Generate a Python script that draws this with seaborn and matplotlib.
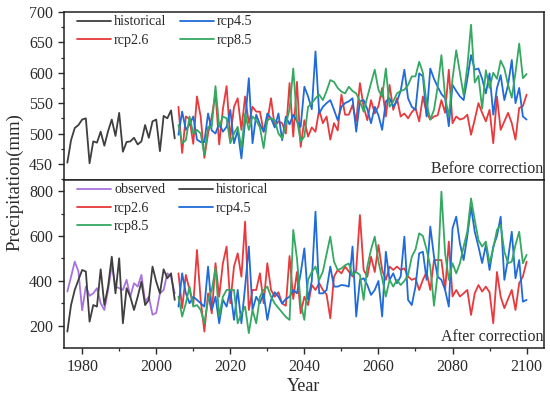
import numpy as np
import pandas as pd
import matplotlib
matplotlib.use("Agg")
import matplotlib.pyplot as plt
import seaborn as sns
from matplotlib.ticker import MultipleLocator

hist_years = list(range(1976, 2006))
fut_years = list(range(2006, 2101))

# ---- Before correction ----
hist_top = [452, 489, 509, 514, 523, 525, 451, 487, 485, 503, 480, 504, 523, 496, 534,
            470, 486, 487, 493, 482, 487, 514, 493, 520, 523, 471, 529, 525, 538, 492]

rcp26_top = [544, 468, 528, 524, 483, 561, 528, 460, 500, 528,
             566, 482, 540, 578, 492, 544, 558, 506, 561, 517,
             544, 536, 536, 503, 520, 558, 511, 520, 517, 500,
             583, 495, 585, 478, 522, 495, 510, 503, 539, 517,
             528, 490, 517, 505, 564, 531, 531, 547, 520, 583,
             544, 522, 555, 533, 545, 575, 528, 580, 539, 558,
             528, 533, 525, 535, 542, 520, 561, 534, 523, 528,
             530, 555, 534, 605, 517, 528, 523, 525, 531, 498,
             523, 550, 534, 520, 539, 484, 561, 506, 520, 534,
             517, 490, 542, 545, 564]

rcp45_top = [498, 536, 506, 515, 528, 490, 486, 486, 533, 505,
             500, 517, 503, 511, 539, 484, 505, 459, 520, 591,
             484, 531, 515, 503, 533, 525, 510, 533, 489, 528,
             515, 531, 520, 511, 577, 561, 540, 635, 533, 544,
             550, 555, 539, 522, 544, 550, 553, 558, 503, 553,
             555, 540, 517, 544, 530, 506, 553, 558, 544, 553,
             570, 605, 558, 544, 539, 599, 594, 528, 607, 590,
             577, 565, 558, 512, 580, 570, 561, 555, 590, 629,
             605, 607, 590, 566, 599, 531, 575, 596, 555, 580,
             621, 550, 575, 528, 523]

rcp85_top = [514, 484, 489, 528, 500, 506, 500, 465, 511, 511,
             578, 511, 528, 525, 484, 500, 511, 476, 533, 506,
             528, 522, 510, 476, 522, 525, 522, 500, 492, 515,
             540, 607, 522, 487, 495, 544, 550, 558, 564, 555,
             570, 588, 585, 575, 569, 566, 577, 570, 566, 553,
             536, 560, 583, 605, 572, 560, 607, 544, 553, 566,
             570, 572, 580, 594, 594, 618, 600, 550, 523, 539,
             577, 629, 560, 528, 590, 637, 600, 563, 610, 679,
             584, 595, 541, 604, 575, 600, 590, 620, 607, 580,
             559, 600, 648, 591, 598]

# ---- After correction ----
observed = [353, 419, 486, 442, 270, 375, 334, 345, 368, 301, 271, 360, 471, 375, 368,
            360, 405, 330, 390, 375, 427, 308, 330, 250, 258, 345, 360, 434, 419, 345]

hist_bot = [175, 293, 360, 405, 449, 442, 219, 293, 286, 452, 293, 375, 508, 345, 501,
            212, 368, 330, 271, 330, 397, 293, 316, 464, 397, 345, 452, 412, 434, 316]

rcp26_bot = [434, 279, 427, 360, 293, 538, 316, 175, 345, 256,
             479, 330, 479, 553, 301, 464, 523, 419, 664, 271,
             360, 360, 434, 301, 479, 360, 330, 350, 300, 290,
             511, 320, 440, 256, 330, 293, 382, 360, 390, 360,
             340, 234, 419, 449, 434, 464, 442, 420, 450, 693,
             449, 419, 508, 440, 560, 449, 405, 464, 449, 464,
             449, 456, 420, 405, 412, 360, 405, 440, 360, 493,
             493, 493, 360, 575, 331, 360, 331, 345, 360, 249,
             345, 382, 353, 375, 350, 212, 440, 330, 279, 320,
             360, 271, 390, 420, 486]

rcp45_bot = [286, 434, 345, 301, 330, 316, 301, 286, 464, 271,
             330, 212, 316, 286, 360, 227, 360, 212, 375, 553,
             271, 330, 301, 345, 227, 316, 350, 330, 300, 320,
             330, 360, 345, 434, 545, 316, 400, 708, 345, 345,
             360, 464, 375, 375, 382, 380, 375, 553, 242, 405,
             412, 382, 338, 360, 400, 242, 530, 405, 434, 390,
             420, 597, 316, 293, 375, 523, 530, 405, 642, 508,
             419, 405, 360, 286, 634, 686, 567, 493, 600, 730,
             619, 553, 480, 560, 449, 553, 600, 686, 405, 500,
             619, 412, 493, 308, 316]

rcp85_bot = [330, 242, 301, 375, 286, 293, 271, 212, 316, 360,
             456, 242, 330, 360, 360, 360, 212, 256, 286, 168,
             271, 212, 330, 360, 375, 330, 300, 280, 260, 240,
             227, 627, 500, 300, 227, 405, 440, 464, 405, 442,
             520, 597, 486, 449, 456, 470, 478, 427, 440, 427,
             316, 464, 540, 597, 486, 412, 331, 405, 375, 405,
             382, 400, 427, 508, 540, 612, 600, 540, 464, 290,
             434, 797, 523, 405, 479, 434, 479, 553, 620, 767,
             671, 582, 553, 575, 479, 545, 627, 649, 530, 479,
             486, 560, 619, 479, 516]

colors = {
    "observed": "#a772de",
    "historical": "#3f3f3f",
    "rcp2.6": "#e8393c",
    "rcp4.5": "#1f6bd8",
    "rcp8.5": "#35a862",
}

sns.set_theme(style="ticks")
plt.rcParams["font.family"] = ["Liberation Serif", "DejaVu Serif"]
plt.rcParams["text.color"] = "#2a2a2a"
plt.rcParams["axes.labelcolor"] = "#2a2a2a"
plt.rcParams["xtick.color"] = "#2a2a2a"
plt.rcParams["ytick.color"] = "#2a2a2a"

fig = plt.figure(figsize=(5.5, 3.94), dpi=100)
L, R = 64 / 550, 544 / 550
ax1 = fig.add_axes([L, 1 - 180 / 394, R - L, 168 / 394])
ax2 = fig.add_axes([L, 1 - 348 / 394, R - L, 168 / 394], sharex=ax1)

lw = 1.3

def draw(ax, x, y, name):
    sns.lineplot(x=x, y=y, ax=ax, color=colors[name], linewidth=lw, label=name)

# top panel
draw(ax1, hist_years, hist_top, "historical")
draw(ax1, fut_years, rcp26_top, "rcp2.6")
draw(ax1, fut_years, rcp45_top, "rcp4.5")
draw(ax1, fut_years, rcp85_top, "rcp8.5")

# bottom panel
draw(ax2, hist_years, observed, "observed")
draw(ax2, hist_years, hist_bot, "historical")
draw(ax2, fut_years, rcp26_bot, "rcp2.6")
draw(ax2, fut_years, rcp45_bot, "rcp4.5")
draw(ax2, fut_years, rcp85_bot, "rcp8.5")

ax1.set_xlim(1975.1, 2104.7)
ax1.set_ylim(423.5, 700)
ax2.set_ylim(102, 849)

ax1.yaxis.set_major_locator(MultipleLocator(50))
ax1.yaxis.set_minor_locator(MultipleLocator(25))
ax2.yaxis.set_major_locator(MultipleLocator(200))
ax2.yaxis.set_minor_locator(MultipleLocator(100))
ax2.xaxis.set_major_locator(MultipleLocator(20))
ax2.xaxis.set_minor_locator(MultipleLocator(10))

for ax in (ax1, ax2):
    for s in ax.spines.values():
        s.set_linewidth(1.1)
        s.set_color("#222222")
    ax.tick_params(axis="y", which="major", direction="out", length=4.5, width=1.0,
                   labelsize=11.5, right=False)
    ax.tick_params(axis="y", which="minor", direction="out", length=2.5, width=0.9)
    ax.set_ylabel("")
    ax.set_xlabel("")

ax1.tick_params(axis="x", which="both", bottom=False, labelbottom=False, top=False)
ax2.tick_params(axis="x", which="major", direction="out", length=4.5, width=1.0, labelsize=11.5, top=False)
ax2.tick_params(axis="x", which="minor", direction="out", length=2.5, width=0.9, top=False)

ax2.set_xlabel("Year", fontsize=13, labelpad=2)
fig.text(0.026, (1 - 182 / 394), "Precipitation(mm)", rotation=90, fontsize=13.5,
         ha="center", va="center")

leg_kw = dict(ncol=2, loc="upper left", bbox_to_anchor=(0.01, 1.03), frameon=False,
              fontsize=10.2, handlelength=2.4, handletextpad=0.2, columnspacing=0.95,
              labelspacing=0.36, borderaxespad=0.2)

h1, l1 = ax1.get_legend_handles_labels()
order1 = ["historical", "rcp2.6", "rcp4.5", "rcp8.5"]
hd1 = dict(zip(l1, h1))
ax1.legend([hd1[k] for k in order1], order1, **leg_kw)

h2, l2 = ax2.get_legend_handles_labels()
order2 = ["observed", "rcp2.6", "rcp8.5", "historical", "rcp4.5"]
hd2 = dict(zip(l2, h2))
ax2.legend([hd2[k] for k in order2], order2, **leg_kw)

ax1.text(0.998, 0.015, "Before correction", transform=ax1.transAxes,
         ha="right", va="bottom", fontsize=11.5)
ax2.text(0.998, 0.015, "After correction", transform=ax2.transAxes,
         ha="right", va="bottom", fontsize=11.5)

fig.savefig("out.png", dpi=100)
